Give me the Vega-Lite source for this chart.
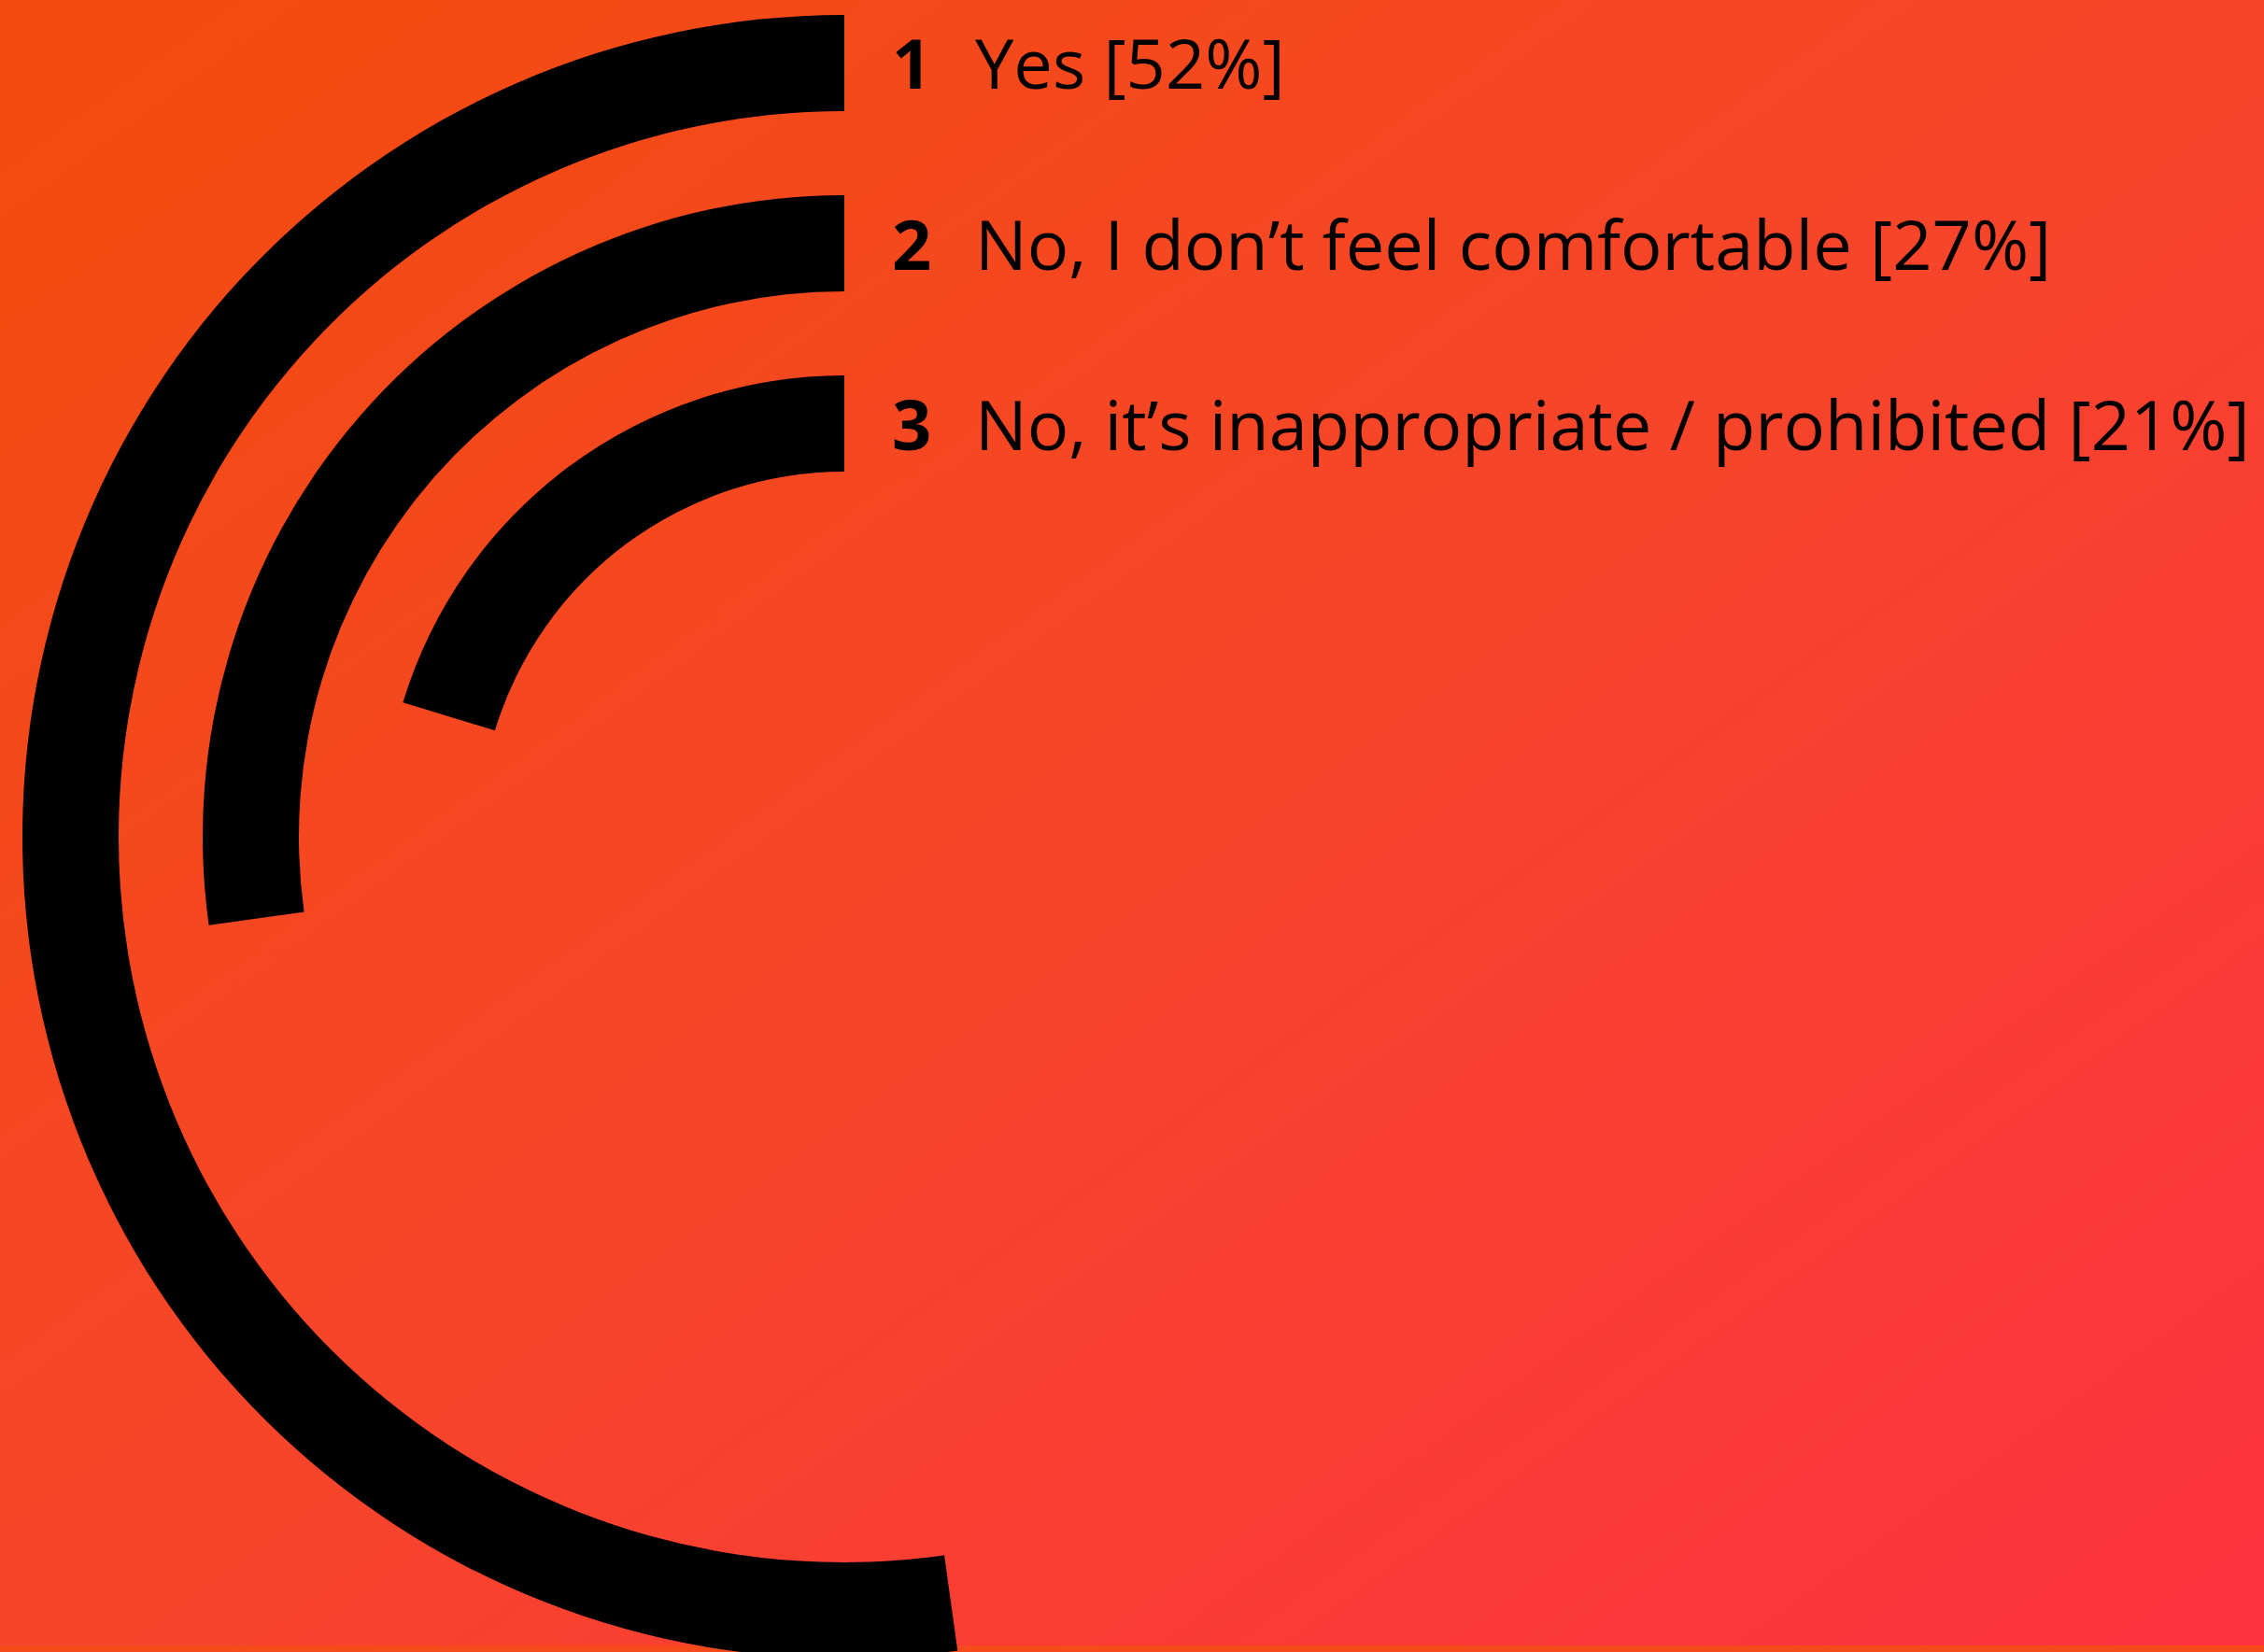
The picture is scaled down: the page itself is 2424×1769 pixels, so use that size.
{
  "$schema": "https://vega.github.io/schema/vega-lite/v6.json",
  "width": 2424,
  "height": 1769,
  "autosize": {"type": "fit", "contains": "padding"},
  "padding": 0,
  "background": "#F54A1A",
  "config": {"view": {"stroke": null}},
  "data": {
    "values": [
      {"rank": 1, "num": "1", "answer": "Yes", "share": 52.2, "label": "Yes [52%]"},
      {"rank": 2, "num": "2", "answer": "No, I don’t feel comfortable", "share": 27.2, "label": "No, I don’t feel comfortable [27%]"},
      {"rank": 3, "num": "3", "answer": "No, it’s inappropriate / prohibited", "share": 20.3, "label": "No, it’s inappropriate / prohibited [21%]"}
    ]
  },
  "layer": [
    {
      "data": {"values": [{}]},
      "mark": {
        "type": "rect",
        "color": {
          "gradient": "linear",
          "x1": 0, "y1": 0, "x2": 1, "y2": 1,
          "stops": [
            {"offset": 0, "color": "#F34C0D"},
            {"offset": 0.5, "color": "#F6452A"},
            {"offset": 1, "color": "#FD3340"}
          ]
        }
      },
      "encoding": {}
    },
    {
      "mark": {"type": "arc", "x": 904, "y": 896, "color": "#000000", "radius2Offset": -103},
      "encoding": {
        "theta": {"field": "share", "type": "quantitative", "stack": null, "scale": {"domain": [0, 100], "range": [0, -6.283185307]}},
        "theta2": {"datum": 0},
        "radius": {"field": "rank", "type": "quantitative", "scale": {"type": "linear", "domain": [1, 3], "range": [880, 494], "zero": false}},
        "radius2": {"field": "rank"}
      }
    },
    {
      "mark": {"type": "text", "align": "left", "baseline": "middle", "font": "Open Sans", "fontWeight": "bold", "fontSize": 74, "color": "#000000", "dy": 4},
      "encoding": {
        "x": {"value": 955},
        "y": {"field": "rank", "type": "quantitative", "scale": {"domain": [1, 3], "range": [69, 456]}, "axis": null},
        "text": {"field": "num"}
      }
    },
    {
      "mark": {"type": "text", "align": "left", "baseline": "middle", "font": "Open Sans", "fontWeight": "normal", "fontSize": 74, "color": "#000000", "dy": 4},
      "encoding": {
        "x": {"value": 1044},
        "y": {"field": "rank", "type": "quantitative", "axis": null},
        "text": {"field": "label"}
      }
    }
  ]
}
